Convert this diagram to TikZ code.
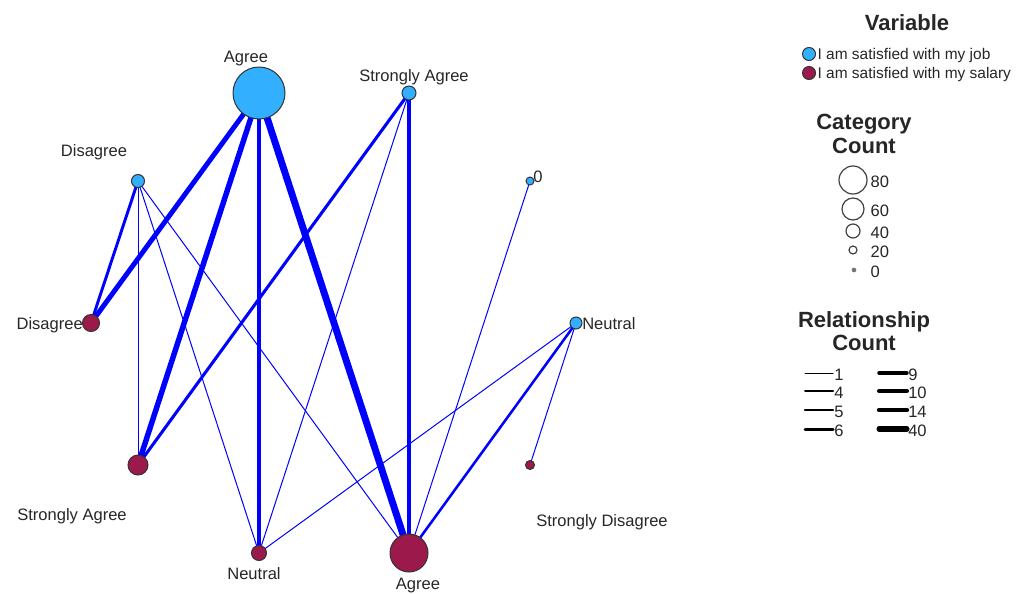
\documentclass[tikz,border=0pt]{standalone}
\usepackage{fontspec}
\setmainfont{Liberation Sans}
\usepackage{xcolor}
\usetikzlibrary{backgrounds}
\definecolor{job-blue}{HTML}{33AFFF}
\definecolor{salary-red}{HTML}{9C1A4B}
\definecolor{link-blue}{HTML}{0000FF}
\definecolor{ink}{HTML}{262626}

\begin{document}
\begin{tikzpicture}[x=0.75pt, y=-0.75pt,
    every node/.style={text=ink},
    job/.style={circle, draw=black!80, line width=0.75pt, fill=job-blue, inner sep=0pt},
    salary/.style={circle, draw=black!80, line width=0.75pt, fill=salary-red, inner sep=0pt},
    catlabel/.style={font=\fontsize{12.4}{14}\selectfont, inner sep=1pt},
    legtext/.style={font=\fontsize{11.6}{13}\selectfont, anchor=west, inner sep=1pt},
    legtitle/.style={font=\fontsize{16.5}{17.4}\selectfont\bfseries, align=center},
    link/.style={draw=link-blue, line cap=round}]
    \useasboundingbox (0,0) rectangle (1016,593);
    % I am satisfied with my job
    \node[job, minimum size=39pt] (jagree) at (259,93) {};
    \node[job, minimum size=10.5pt] (jstrong) at (409,93) {};
    \node[job, minimum size=9.75pt] (jdis) at (138,181) {};
    \node[job, minimum size=6pt] (jzero) at (530,181) {};
    \node[job, minimum size=9pt] (jneutral) at (576,323) {};
    % I am satisfied with my salary
    \node[salary, minimum size=12.75pt] (sdis) at (91,323) {};
    \node[salary, minimum size=15pt] (sstrong) at (138,465) {};
    \node[salary, minimum size=11.25pt] (sneutral) at (259,553) {};
    \node[salary, minimum size=28.5pt] (sagree) at (409,553) {};
    \node[salary, minimum size=6.75pt] (sstrongdis) at (530,465) {};

    \node[catlabel] (ljagree) at (246,59) {Agree};
    \node[catlabel] (ljstrong) at (414,77) {Strongly Agree};
    \node[catlabel] (ljdis) at (94,152) {Disagree};
    \node[catlabel, anchor=west, inner sep=0pt] (ljzero) at (533,177) {0};
    \node[catlabel, anchor=west, inner sep=0pt] (ljneutral) at (582,324) {Neutral};
    \node[catlabel, anchor=east, inner sep=0pt] (lsdis) at (83,325) {Disagree};
    \node[catlabel] (lsstrong) at (72,516) {Strongly Agree};
    \node[catlabel] (lsneutral) at (254,574) {Neutral};
    \node[catlabel] (lsagree) at (418,586) {Agree};
    \node[catlabel] (lsstrongdis) at (602,522) {Strongly Disagree};

    \begin{scope}[on background layer]
      \foreach \from/\to/\w in {jagree/sagree/5.2, jagree/sstrong/4.1,
          jagree/sdis/3.7, jstrong/sagree/3.1, jagree/sneutral/2.8,
          jstrong/sstrong/2.3, jdis/sdis/2.2, jneutral/sagree/1.9,
          jdis/sstrong/0.75, jdis/sneutral/0.75, jdis/sagree/0.75,
          jstrong/sneutral/0.75, jzero/sagree/0.75, jneutral/sneutral/0.75,
          jneutral/sstrongdis/0.75}
        \draw[link, line width=\w pt] (\from.center) -- (\to.center);
    \end{scope}

    % legend
    \node[legtitle] (vartitle) at (907,23) {Variable};
    \node[job, minimum size=9.75pt] (vjob) at (809,54) {};
    \node[legtext] (vjobtext) at (816,55) {I am satisfied with my job};
    \node[salary, minimum size=9.75pt] (vsal) at (809,73) {};
    \node[legtext] (vsaltext) at (816,74) {I am satisfied with my salary};

    \node[legtitle] (cattitle) at (864,134) {Category\\Count};
    \foreach \v/\s/\y in {80/21/180, 60/16.5/209, 40/10.5/231, 20/6/250}
      {\node[circle, draw=black!75, line width=0.9pt, inner sep=0pt, minimum size=\s pt] (c\v) at (853,\y) {};
       \node[catlabel, anchor=west] (cl\v) at (869,\y+2) {\v};}
    \node[circle, fill=black!55, inner sep=0pt, minimum size=3.5pt] (c0) at (854,270) {};
    \node[catlabel, anchor=west] (cl0) at (869,272) {0};

    \node[legtitle] (reltitle) at (864,331) {Relationship\\Count};
    \foreach \v/\w/\y in {1/0.75/373, 4/1.5/391, 5/1.75/410, 6/2.25/429}
      {\draw[line width=\w pt, line cap=round] (805,\y) -- (833,\y);
       \node[catlabel, anchor=west, inner sep=0pt] (rl\v) at (834,\y+2) {\v};}
    \foreach \v/\w/\y in {9/2.6/373, 10/3/391, 14/3.3/410, 40/3.8/429}
      {\draw[line width=\w pt, line cap=round] (879,\y) -- (907,\y);
       \node[catlabel, anchor=west, inner sep=0pt] (rl\v) at (908,\y+2) {\v};}
\end{tikzpicture}
\end{document}
